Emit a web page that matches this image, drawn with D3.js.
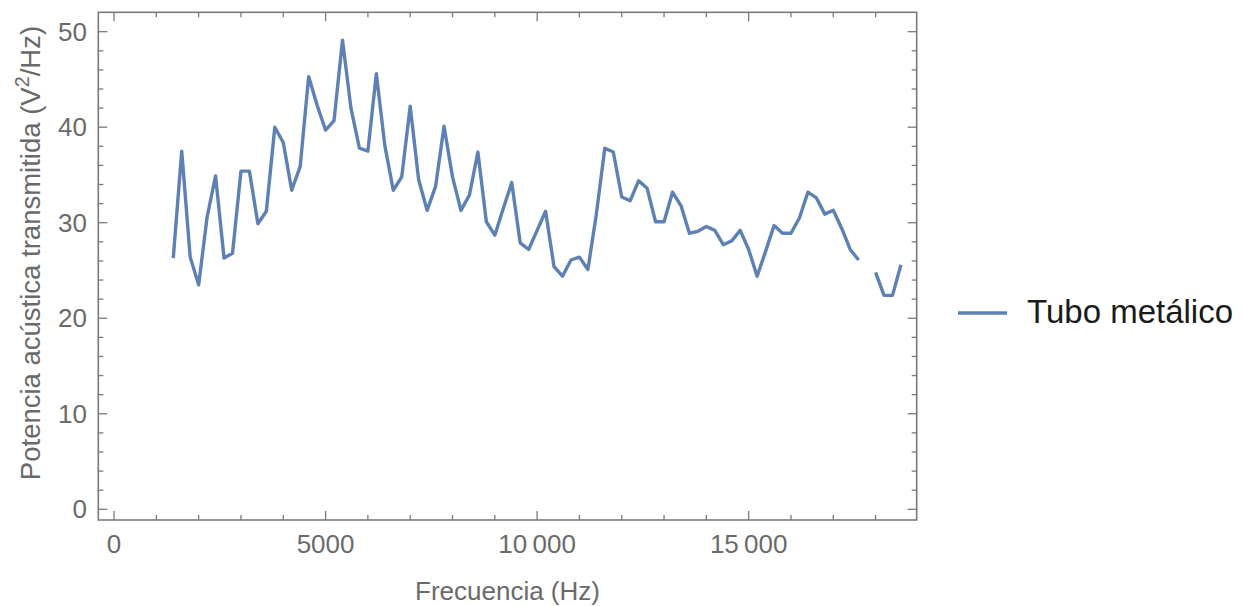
<!DOCTYPE html>
<html>
<head>
<meta charset="utf-8">
<script src="https://cdn.jsdelivr.net/npm/d3@7"></script>
<style>
  html, body { margin: 0; padding: 0; background: #fff; }
  svg { display: block; font-family: "Liberation Sans", Arial, sans-serif; }
</style>
</head>
<body>
<svg id="chart" width="1247" height="606"></svg>
<script>
// ---- data ----
const startFreq = 1400;   // Hz, first sample
const stepFreq = 200;     // Hz between samples
const power = [
  26.3, 37.5, 26.4, 23.5, 30.6, 34.9, 26.3, 26.8, 35.4, 35.4,
  29.9, 31.2, 40.0, 38.4, 33.4, 35.9, 45.3, 42.3, 39.7, 40.7,
  49.1, 42.0, 37.8, 37.5, 45.6, 38.1, 33.4, 34.8, 42.2, 34.5,
  31.3, 33.8, 40.1, 34.8, 31.3, 32.9, 37.4, 30.1, 28.7, 31.5,
  34.2, 27.9, 27.2, 29.2, 31.2, 25.4, 24.4, 26.1, 26.4, 25.1,
  30.9, 37.8, 37.4, 32.7, 32.3, 34.4, 33.6, 30.1, 30.1, 33.2,
  31.8, 28.9, 29.1, 29.6, 29.2, 27.7, 28.1, 29.2, 27.2, 24.4,
  27.0, 29.7, 28.9, 28.9, 30.5, 33.2, 32.6, 30.9, 31.3, 29.4,
  27.2, 26.1, null, 24.8, 22.4, 22.4, 25.6
];
const freqs = power.map((_, i) => startFreq + i * stepFreq);
const seriesName = "Tubo metálico";

const xMajorTicks = [0, 5000, 10000, 15000];
const xTickLabels = ["0", "5000", "10\u2009000", "15\u2009000"];
const xMinorTicks = [1000, 2000, 3000, 4000, 6000, 7000, 8000, 9000, 11000, 12000, 13000, 14000, 16000, 17000, 18000];
const yMajorTicks = [0, 10, 20, 30, 40, 50];
const yTickLabels = ["0", "10", "20", "30", "40", "50"];
const yMinorTicks = [2, 4, 6, 8, 12, 14, 16, 18, 22, 24, 26, 28, 32, 34, 36, 38, 42, 44, 46, 48];

const xTitle = "Frecuencia (Hz)";
const yTitleMain = "Potencia acústica transmitida (V";
const yTitleSup = "2";
const yTitleEnd = "/Hz)";

// ---- layout ----
const L = 98.3, R = 916.7, T = 12.3, B = 520;
const lineColor = "#5E81B5";
const frameColor = "#7a7a7a";
const labelColor = "#6a6a6a";
const fontSize = 26;

const svg = d3.select("#chart");
const x = d3.scaleLinear().domain([-372, 18972]).range([L, R]);
const y = d3.scaleLinear().domain([-1.12, 52.03]).range([B, T]);

const majorLen = 9, minorLen = 5;
const g = svg.append("g");

// frame
g.append("rect")
  .attr("x", L).attr("y", T).attr("width", R - L).attr("height", B - T)
  .attr("fill", "none").attr("stroke", frameColor).attr("stroke-width", 1.6);

// x ticks (bottom and top, inward)
function xTicks(vals, len) {
  vals.forEach(v => {
    g.append("line").attr("x1", x(v)).attr("x2", x(v)).attr("y1", B).attr("y2", B - len)
      .attr("stroke", frameColor).attr("stroke-width", 1.3);
    g.append("line").attr("x1", x(v)).attr("x2", x(v)).attr("y1", T).attr("y2", T + len)
      .attr("stroke", frameColor).attr("stroke-width", 1.3);
  });
}
xTicks(xMajorTicks, majorLen);
xTicks(xMinorTicks, minorLen);

function yTicks(vals, len) {
  vals.forEach(v => {
    g.append("line").attr("x1", L).attr("x2", L + len).attr("y1", y(v)).attr("y2", y(v))
      .attr("stroke", frameColor).attr("stroke-width", 1.3);
    g.append("line").attr("x1", R).attr("x2", R - len).attr("y1", y(v)).attr("y2", y(v))
      .attr("stroke", frameColor).attr("stroke-width", 1.3);
  });
}
yTicks(yMajorTicks, majorLen);
yTicks(yMinorTicks, minorLen);

// tick labels
g.selectAll(".xtl").data(xMajorTicks).enter().append("text")
  .attr("x", d => x(d)).attr("y", 553)
  .attr("text-anchor", "middle")
  .attr("font-size", fontSize).attr("fill", labelColor)
  .text((d, i) => xTickLabels[i]);

g.selectAll(".ytl").data(yMajorTicks).enter().append("text")
  .attr("x", 87).attr("y", d => y(d)).attr("dy", "0.35em")
  .attr("text-anchor", "end")
  .attr("font-size", fontSize).attr("fill", labelColor)
  .text((d, i) => yTickLabels[i]);

// axis titles
g.append("text")
  .attr("x", (L + R) / 2).attr("y", 600)
  .attr("text-anchor", "middle")
  .attr("font-size", fontSize).attr("fill", labelColor)
  .text(xTitle);

const yFont = 27.5;
const yt = g.append("text")
  .attr("transform", `translate(30,253) rotate(-90)`)
  .attr("dy", "0.35em")
  .attr("text-anchor", "middle")
  .attr("font-size", yFont).attr("fill", labelColor);
yt.append("tspan").text(yTitleMain);
yt.append("tspan").attr("font-size", yFont * 0.72).attr("dy", "-0.55em").text(yTitleSup);
yt.append("tspan").attr("dy", "0.4em").text(yTitleEnd);

// data line
const data = freqs.map((f, i) => ({ f, v: power[i] }));
const line = d3.line()
  .defined(d => d.v != null)
  .x(d => x(d.f))
  .y(d => y(d.v));

g.append("path")
  .datum(data)
  .attr("d", line)
  .attr("fill", "none")
  .attr("stroke", lineColor)
  .attr("stroke-width", 3.4)
  .attr("stroke-linejoin", "round")
  .attr("stroke-linecap", "butt");

// legend
g.append("line")
  .attr("x1", 958).attr("x2", 1007).attr("y1", 313).attr("y2", 313)
  .attr("stroke", lineColor).attr("stroke-width", 3.5);
g.append("text")
  .attr("x", 1027).attr("y", 323)
  .attr("font-size", 33).attr("fill", "#1a1a1a")
  .text(seriesName);
</script>
</body>
</html>
